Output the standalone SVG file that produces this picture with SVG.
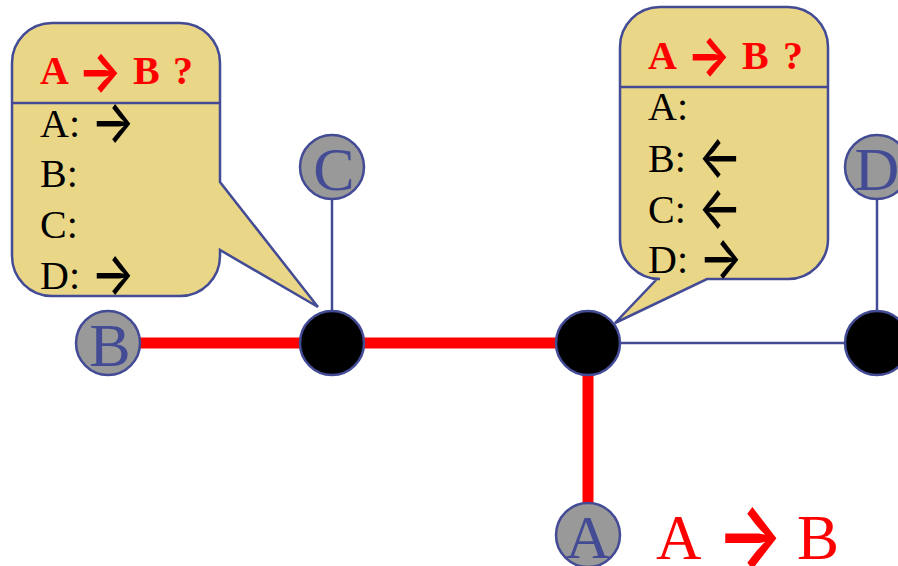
<svg xmlns="http://www.w3.org/2000/svg" width="898" height="566" viewBox="0 0 898 566">
<style>
.callout{fill:#EAD687;stroke:#434B95;stroke-width:2.5}
.sep{stroke:#434B95;stroke-width:2.5;fill:none}
.hdr{font-family:"Liberation Serif",serif;font-weight:bold;font-size:40px;fill:#FF0000}
.body{font-family:"Liberation Serif",serif;font-size:40px;fill:#000}
.arr{font-family:Inter,"DejaVu Sans",sans-serif;font-weight:500;font-size:46px;text-anchor:middle;fill:#000}
.rarr{fill:#FF0000;font-weight:700}
.big{font-size:70px;font-weight:600}
.thin{stroke:#434B95;stroke-width:2.5;fill:none}
.red{stroke:#FF0000;stroke-width:11;fill:none}
.host{fill:#999999;stroke:#434B95;stroke-width:2.5}
.router{fill:#000;stroke:#434B95;stroke-width:2.5}
.hl{font-family:"Liberation Serif",serif;font-size:62px;fill:#434B95;text-anchor:middle}
.lbl{font-family:"Liberation Serif",serif;font-size:63px;fill:#FF0000}
</style>
<g id="connectors">
<line class="thin" x1="332" y1="199" x2="332" y2="311"/>
<line class="thin" x1="877" y1="199" x2="877" y2="311"/>
<line class="thin" x1="620" y1="343" x2="845" y2="343"/>
<line class="red" x1="140" y1="343" x2="300" y2="343"/>
<line class="red" x1="364" y1="343" x2="556" y2="343"/>
<line class="red" x1="588" y1="375" x2="588" y2="503"/>
</g>
<g id="callout-left">
<path class="callout" d="M52 23H180A40 40 0 0 1 220 63V182L318 307L220 250V256A40 40 0 0 1 180 296H52A40 40 0 0 1 12 256V63A40 40 0 0 1 52 23Z"/>
<line class="sep" x1="12" y1="103" x2="220" y2="103"/>
<text class="hdr" y="84"><tspan x="40">A</tspan><tspan x="133">B</tspan><tspan x="173">?</tspan></text>
<text class="arr rarr" transform="translate(100,72) scale(1,1.2)" y="16">→</text>
<text class="body" x="40" y="137">A:</text>
<text class="arr" transform="translate(113,122) scale(1,1.3)" y="16">→</text>
<text class="body" x="40" y="187">B:</text>
<text class="body" x="40" y="238">C:</text>
<text class="body" x="40" y="289">D:</text>
<text class="arr" transform="translate(113,274) scale(1,1.3)" y="16">→</text>
</g>
<g id="callout-right">
<path class="callout" d="M660 7H788A40 40 0 0 1 828 47V239A40 40 0 0 1 788 279H707L615 323L657 279H660A40 40 0 0 1 620 239V47A40 40 0 0 1 660 7Z"/>
<line class="sep" x1="620" y1="87" x2="828" y2="87"/>
<text class="hdr" y="69"><tspan x="648">A</tspan><tspan x="742">B</tspan><tspan x="783">?</tspan></text>
<text class="arr rarr" transform="translate(709,56) scale(1,1.2)" y="16">→</text>
<text class="body" x="648" y="120">A:</text>
<text class="body" x="648" y="172">B:</text>
<text class="arr" transform="translate(720,157) scale(1,1.3)" y="16">←</text>
<text class="body" x="648" y="223">C:</text>
<text class="arr" transform="translate(720,208) scale(1,1.3)" y="16">←</text>
<text class="body" x="648" y="273">D:</text>
<text class="arr" transform="translate(721,258) scale(1,1.3)" y="16">→</text>
</g>
<g id="node-C"><circle class="host" cx="332" cy="167" r="32"/><text class="hl" x="334" y="190">C</text></g>
<g id="node-D"><circle class="host" cx="877" cy="167" r="32"/><text class="hl" x="877" y="190">D</text></g>
<g id="node-B"><circle class="host" cx="108" cy="343" r="32"/><text class="hl" x="110" y="366">B</text></g>
<g id="node-A"><circle class="host" cx="588" cy="535" r="32"/><text class="hl" x="588" y="558">A</text></g>
<g id="router-1"><circle class="router" cx="332" cy="343" r="32"/></g>
<g id="router-2"><circle class="router" cx="588" cy="343" r="32"/></g>
<g id="router-3"><circle class="router" cx="877" cy="343" r="32"/></g>
<g id="label">
<text class="lbl" y="559"><tspan x="656">A</tspan><tspan x="797">B</tspan></text>
<text class="arr rarr big" transform="translate(750,536) scale(1,1.3)" y="24">→</text>
</g>
</svg>
